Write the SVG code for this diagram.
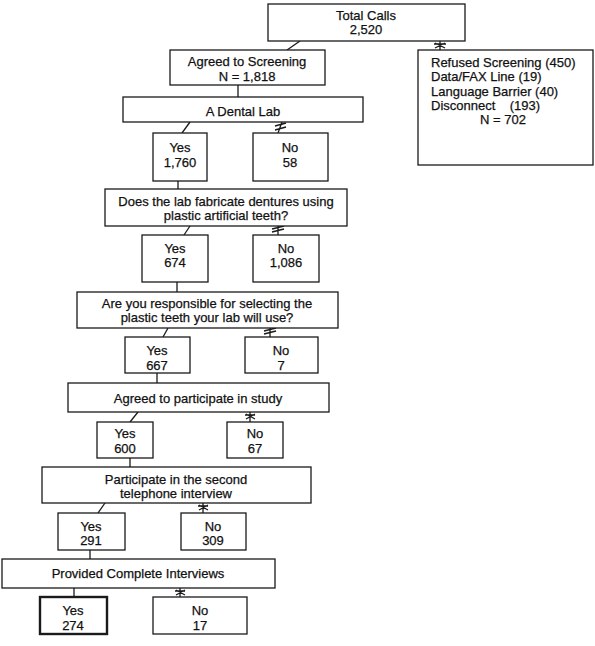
<svg xmlns="http://www.w3.org/2000/svg" width="595" height="646" viewBox="0 0 595 646">
<style>
.box{fill:#fff;stroke:#1a1a1a;stroke-width:1.3}
.bold{stroke-width:2.4}
.t{font-family:"Liberation Sans",Arial,sans-serif;font-size:13px;fill:#111;stroke:#111;stroke-width:0.25;text-anchor:middle}
.l{text-anchor:start}
.c{fill:none;stroke:#1a1a1a;stroke-width:1.3}
</style>
<rect width="595" height="646" fill="#fff"/>
<g id="connectors">
<path class="c" d="M300,41 L287,50"/>
<path class="c" d="M440,41 L440,50 M435,43 L445,48 M435,48 L445,43 M434,44 L446,44"/>
<path class="c" d="M238,85 L238,97"/>
<path class="c" d="M190,122 L182,133"/>
<path class="c" d="M282,122 L278,133 M275,126 L286,123 M275,130 L286,127"/>
<path class="c" d="M178,181 L178,189"/>
<path class="c" d="M190,226 L184,235"/>
<path class="c" d="M278,226 L278,235 M272,229 L284,226 M272,232 L284,229"/>
<path class="c" d="M177,282 L177,292"/>
<path class="c" d="M168,328 L163,337"/>
<path class="c" d="M270,328 L270,337 M264,331 L276,328 M264,334 L276,331"/>
<path class="c" d="M157,373 L157,383"/>
<path class="c" d="M138,412 L130,422"/>
<path class="c" d="M250,412 L250,422 M246,414 L255,419 M246,419 L255,414 M245,415 L255,415"/>
<path class="c" d="M130,458 L130,467"/>
<path class="c" d="M105,503 L98,513"/>
<path class="c" d="M203,503 L203,513 M199,505 L208,510 M199,510 L208,505 M198,506 L208,506"/>
<path class="c" d="M90,550 L90,559"/>
<path class="c" d="M74,588 L74,597"/>
<path class="c" d="M180,588 L180,597 M176,590 L185,595 M176,595 L185,590 M175,591 L185,591"/>
</g>
<g id="total"><rect class="box" x="268" y="4" width="197" height="37"/><text class="t" x="366" y="20">Total Calls</text><text class="t" x="366" y="34">2,520</text></g>
<g id="refused"><rect class="box" x="418" y="50" width="175" height="115"/>
<text class="t l" x="431" y="67">Refused Screening (450)</text>
<text class="t l" x="431" y="81">Data/FAX Line (19)</text>
<text class="t l" x="431" y="96">Language Barrier (40)</text>
<text class="t l" x="431" y="110" xml:space="preserve">Disconnect    (193)</text>
<text class="t" x="503" y="124">N = 702</text></g>
<g id="screening"><rect class="box" x="170" y="50" width="155" height="35"/><text class="t" x="247" y="66">Agreed to Screening</text><text class="t" x="247" y="81">N = 1,818</text></g>
<g id="dental"><rect class="box" x="123" y="97" width="240" height="25"/><text class="t" x="243" y="116">A Dental Lab</text></g>
<g id="yes1"><rect class="box" x="153" y="133" width="54" height="48"/><text class="t" x="180" y="152">Yes</text><text class="t" x="180" y="167">1,760</text></g>
<g id="no1"><rect class="box" x="253" y="133" width="75" height="48"/><text class="t" x="290" y="152">No</text><text class="t" x="290" y="167">58</text></g>
<g id="dentures"><rect class="box" x="105" y="189" width="242" height="37"/><text class="t" x="226" y="206">Does the lab fabricate dentures using</text><text class="t" x="226" y="220">plastic artificial teeth?</text></g>
<g id="yes2"><rect class="box" x="142" y="235" width="66" height="47"/><text class="t" x="175" y="253">Yes</text><text class="t" x="175" y="267">674</text></g>
<g id="no2"><rect class="box" x="253" y="235" width="66" height="47"/><text class="t" x="286" y="253">No</text><text class="t" x="286" y="267">1,086</text></g>
<g id="responsible"><rect class="box" x="77" y="292" width="261" height="36"/><text class="t" x="207" y="308">Are you responsible for selecting the</text><text class="t" x="207" y="322">plastic teeth your lab will use?</text></g>
<g id="yes3"><rect class="box" x="125" y="337" width="65" height="36"/><text class="t" x="157" y="355">Yes</text><text class="t" x="157" y="370">667</text></g>
<g id="no3"><rect class="box" x="245" y="337" width="73" height="36"/><text class="t" x="281" y="355">No</text><text class="t" x="281" y="370">7</text></g>
<g id="participate"><rect class="box" x="68" y="383" width="261" height="29"/><text class="t" x="198" y="403">Agreed to participate in study</text></g>
<g id="yes4"><rect class="box" x="97" y="422" width="56" height="36"/><text class="t" x="125" y="438">Yes</text><text class="t" x="125" y="453">600</text></g>
<g id="no4"><rect class="box" x="227" y="422" width="56" height="36"/><text class="t" x="255" y="438">No</text><text class="t" x="255" y="453">67</text></g>
<g id="second"><rect class="box" x="42" y="467" width="269" height="36"/><text class="t" x="176" y="484">Participate in the second</text><text class="t" x="176" y="498">telephone interview</text></g>
<g id="yes5"><rect class="box" x="58" y="513" width="67" height="37"/><text class="t" x="91" y="531">Yes</text><text class="t" x="91" y="545">291</text></g>
<g id="no5"><rect class="box" x="181" y="513" width="65" height="37"/><text class="t" x="213" y="531">No</text><text class="t" x="213" y="545">309</text></g>
<g id="complete"><rect class="box" x="2" y="559" width="273" height="29"/><text class="t" x="138" y="578">Provided Complete Interviews</text></g>
<g id="yes6"><rect class="box bold" x="40" y="597" width="67" height="37"/><text class="t" x="73" y="615">Yes</text><text class="t" x="73" y="630">274</text></g>
<g id="no6"><rect class="box" x="153" y="597" width="94" height="37"/><text class="t" x="200" y="615">No</text><text class="t" x="200" y="630">17</text></g>
</svg>
